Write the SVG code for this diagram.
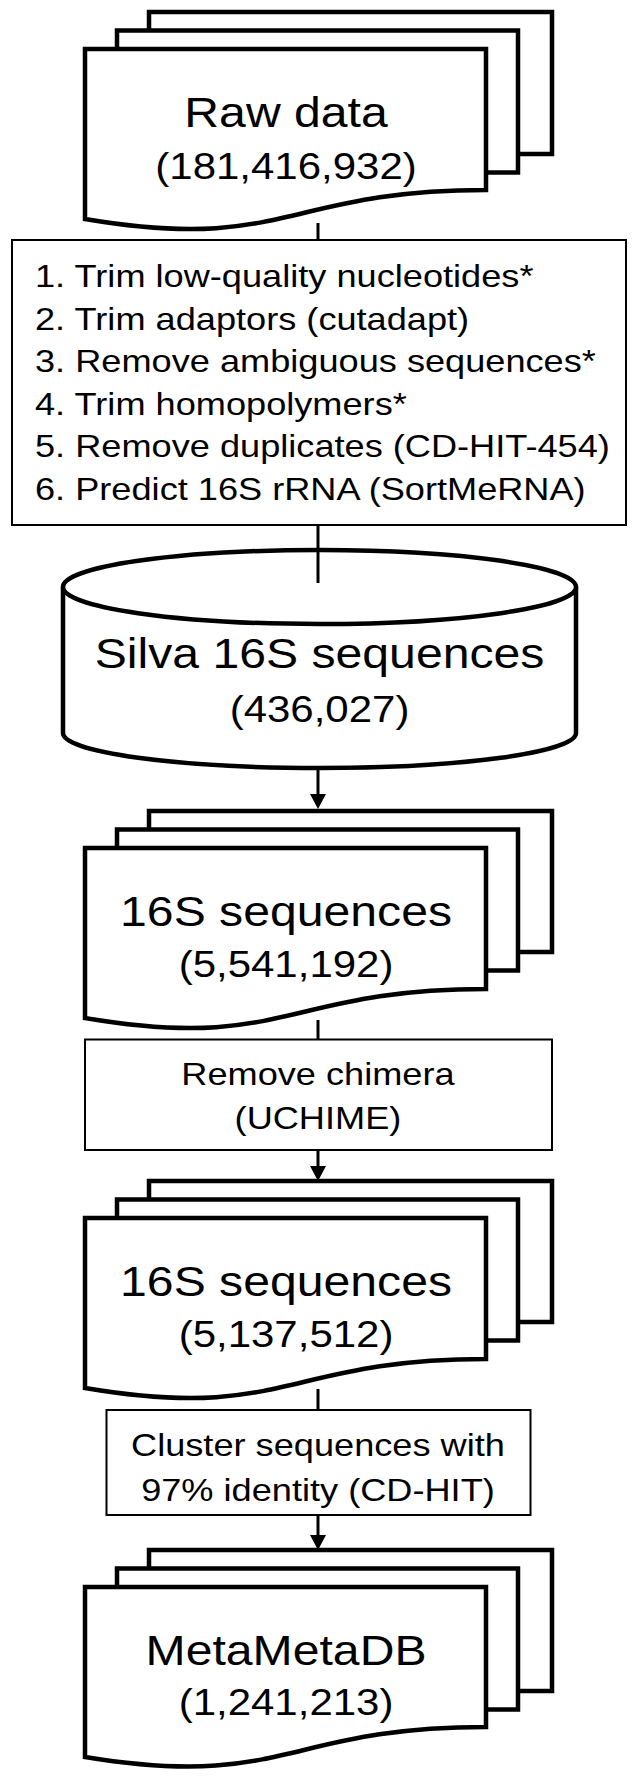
<svg xmlns="http://www.w3.org/2000/svg" width="637" height="1780" viewBox="0 0 637 1780">
<style>
.doc{fill:#fff;stroke:#000;stroke-width:4.5;stroke-linejoin:miter}
.box{fill:#fff;stroke:#000;stroke-width:2}
.cyl{fill:#fff;stroke:#000;stroke-width:4.5}
.con{fill:none;stroke:#000;stroke-width:3}
text{font-family:"Liberation Sans",Arial,Helvetica,sans-serif;fill:#000}
.t1{font-size:43px;text-anchor:middle}
.t2{font-size:37.5px;text-anchor:middle}
.t3{font-size:32.3px}
.tc{text-anchor:middle}
</style>
<defs>
<marker id="ah" viewBox="0 0 15 16" markerWidth="15" markerHeight="16" refX="5" refY="8" orient="auto" markerUnits="userSpaceOnUse">
<path d="M0,0 L15,8 L0,16 Z" fill="#000"/>
</marker>
</defs>

<g id="raw-data">
<rect class="doc" x="149" y="12" width="403" height="142"/>
<rect class="doc" x="117" y="30.5" width="401" height="142"/>
<path class="doc" d="M85,49 H486 V190 C285.5,190 285.5,253 85,219 Z"/>
<text class="t1" transform="scale(1.12 1)" x="255.4" y="127.5">Raw data</text>
<text class="t2" transform="scale(1.12 1)" x="255.4" y="179">(181,416,932)</text>
</g>

<g id="preprocess">
<rect class="box" x="12" y="240" width="614" height="285"/>
<g transform="translate(35 0) scale(1.12 1)">
<text class="t3" x="0" y="287">1. Trim low-quality nucleotides*</text>
<text class="t3" x="0" y="329.6">2. Trim adaptors (cutadapt)</text>
<text class="t3" x="0" y="372.2">3. Remove ambiguous sequences*</text>
<text class="t3" x="0" y="414.8">4. Trim homopolymers*</text>
<text class="t3" x="0" y="457.4">5. Remove duplicates (CD-HIT-454)</text>
<text class="t3" x="0" y="500">6. Predict 16S rRNA (SortMeRNA)</text>
</g>
</g>

<g id="silva">
<path class="cyl" d="M63,587 V733 A256.5,35 0 0 0 576,733 V587"/>
<ellipse class="cyl" cx="319.5" cy="587" rx="256.5" ry="37"/>
<text class="t1" transform="scale(1.12 1)" x="285.3" y="668">Silva 16S sequences</text>
<text class="t2" transform="scale(1.12 1)" x="285.3" y="722">(436,027)</text>
</g>

<g id="seq16s-1">
<rect class="doc" x="149" y="811" width="403" height="141"/>
<rect class="doc" x="117" y="829.5" width="401" height="141"/>
<path class="doc" d="M85,848 H486 V989 C285.5,989 285.5,1052 85,1018 Z"/>
<text class="t1" transform="scale(1.12 1)" x="255.4" y="926">16S sequences</text>
<text class="t2" transform="scale(1.12 1)" x="255.4" y="977">(5,541,192)</text>
</g>

<g id="chimera">
<rect class="box" x="85" y="1039.5" width="467" height="110.5"/>
<text class="t3 tc" transform="scale(1.12 1)" x="283.9" y="1085">Remove chimera</text>
<text class="t3 tc" transform="scale(1.12 1)" x="283.9" y="1129">(UCHIME)</text>
</g>

<g id="seq16s-2">
<rect class="doc" x="149" y="1181" width="403" height="141"/>
<rect class="doc" x="117" y="1199.5" width="401" height="141"/>
<path class="doc" d="M85,1218 H486 V1359 C285.5,1359 285.5,1422 85,1388 Z"/>
<text class="t1" transform="scale(1.12 1)" x="255.4" y="1296.5">16S sequences</text>
<text class="t2" transform="scale(1.12 1)" x="255.4" y="1347">(5,137,512)</text>
</g>

<g id="cluster">
<rect class="box" x="106.5" y="1410" width="424" height="105"/>
<text class="t3 tc" transform="scale(1.12 1)" x="283.9" y="1456">Cluster sequences with</text>
<text class="t3 tc" transform="scale(1.12 1)" x="283.9" y="1501">97% identity (CD-HIT)</text>
</g>

<g id="metametadb">
<rect class="doc" x="149" y="1550" width="403" height="141"/>
<rect class="doc" x="117" y="1568.5" width="401" height="141"/>
<path class="doc" d="M85,1587 H486 V1727 C285.5,1727 285.5,1790 85,1757 Z"/>
<text class="t1" transform="scale(1.12 1)" x="255.4" y="1665">MetaMetaDB</text>
<text class="t2" transform="scale(1.12 1)" x="255.4" y="1715">(1,241,213)</text>
</g>

<g id="connectors">
<line class="con" x1="318" y1="223" x2="318" y2="240"/>
<line class="con" x1="318" y1="525" x2="318" y2="583"/>
<line class="con" x1="318" y1="770" x2="318" y2="799" marker-end="url(#ah)"/>
<line class="con" x1="318" y1="1020" x2="318" y2="1039.5"/>
<line class="con" x1="318" y1="1150" x2="318" y2="1171" marker-end="url(#ah)"/>
<line class="con" x1="318" y1="1389" x2="318" y2="1410"/>
<line class="con" x1="318" y1="1515" x2="318" y2="1540" marker-end="url(#ah)"/>
</g>
</svg>
